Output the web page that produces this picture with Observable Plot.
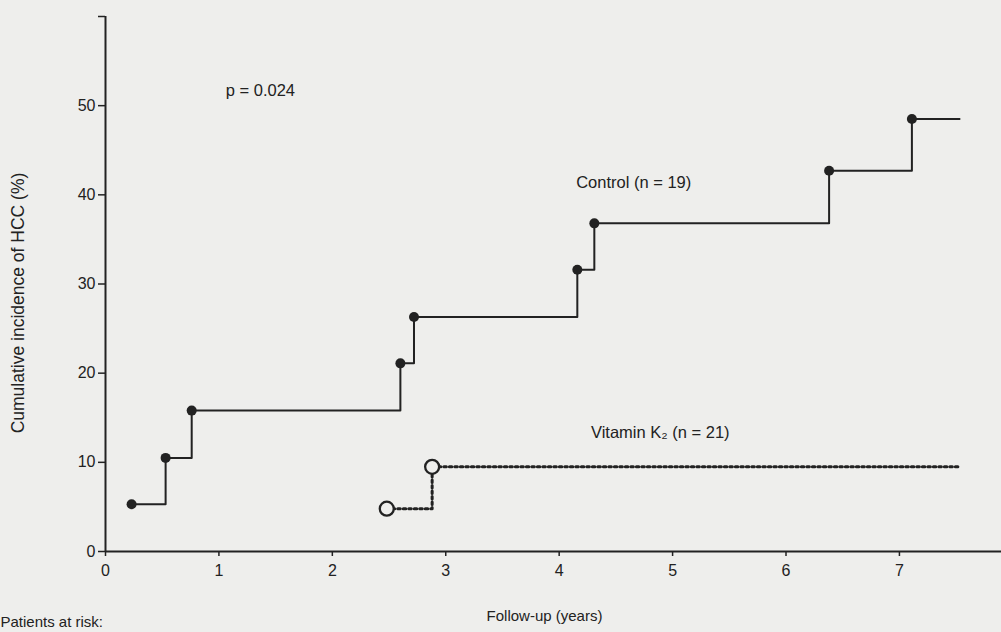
<!DOCTYPE html>
<html><head><meta charset="utf-8">
<script src="https://cdn.jsdelivr.net/npm/d3@7"></script>
<script src="https://cdn.jsdelivr.net/npm/@observablehq/plot@0.6"></script>
<style>
html,body{margin:0;padding:0;background:#eeeeec;}
#chart{width:1001px;height:632px;overflow:hidden;}
</style></head><body><div id="chart"></div>
<script>
// Control group (filled dots): event times (years) and cumulative incidence (%)
const controlYears = [0.23, 0.53, 0.76, 2.60, 2.72, 4.16, 4.31, 6.38, 7.11];
const controlPct   = [5.3, 10.5, 15.8, 21.1, 26.3, 31.6, 36.8, 42.7, 48.5];
// Vitamin K2 group (open circles)
const vitaminYears = [2.48, 2.88];
const vitaminPct   = [4.8, 9.5];
// end of follow-up for both curves
const followUpEnd = 7.53;
const xTicks = [0, 1, 2, 3, 4, 5, 6, 7];
const yTicks = [0, 10, 20, 30, 40, 50, 60];
const yTickLabels = ["0", "10", "20", "30", "40", "50", ""];
const labels = [
  {x: 1.06, y: 51.7, text: "p = 0.024"},
  {x: 4.15, y: 41.4, text: "Control (n = 19)"},
  {x: 4.28, y: 13.3, text: "Vitamin K\u2082 (n = 21)"}
];

const ink = "#222222";
const controlEvents = controlYears.map((t, i) => ({t, p: controlPct[i]}));
const controlLine = [...controlEvents, {t: followUpEnd, p: controlPct[controlPct.length - 1]}];
const vitaminEvents = vitaminYears.map((t, i) => ({t, p: vitaminPct[i]}));
const vitaminLine = [...vitaminEvents, {t: followUpEnd, p: vitaminPct[vitaminPct.length - 1]}];

const chart = Plot.plot({
  width: 1001, height: 632,
  marginLeft: 105, marginRight: 0, marginTop: 16, marginBottom: 81,
  x: {domain: [0, 7.9]},
  y: {domain: [0, 60]},
  style: {background: "transparent", fontFamily: "'Liberation Sans', Arial, sans-serif", fontSize: "16px", color: ink},
  marks: [
    Plot.axisX({ticks: xTicks, tickSize: 5, tickPadding: 8, label: null, stroke: ink, strokeWidth: 1.5, fontSize: 16, fill: ink}),
    Plot.axisY({ticks: yTicks, tickFormat: d => yTickLabels[yTicks.indexOf(d)], tickSize: 7, tickPadding: 3, label: null, stroke: ink, strokeWidth: 1.5, fontSize: 16, fill: ink}),
    Plot.ruleY([0], {stroke: ink, strokeWidth: 2}),
    Plot.ruleX([0], {stroke: ink, strokeWidth: 2}),
    Plot.line(controlLine, {x: "t", y: "p", curve: "step-after", stroke: ink, strokeWidth: 2}),
    Plot.line(vitaminLine, {x: "t", y: "p", curve: "step-after", stroke: ink, strokeWidth: 3, strokeDasharray: "2.5,3"}),
    Plot.dot(controlEvents, {x: "t", y: "p", r: 5, fill: ink, stroke: "none"}),
    Plot.dot(vitaminEvents, {x: "t", y: "p", r: 7, fill: "#eeeeec", stroke: ink, strokeWidth: 2.3}),
    Plot.text(labels, {x: "x", y: "y", text: "text", textAnchor: "start", fill: ink, fontSize: 16.5}),
    Plot.text(["Cumulative incidence of HCC (%)"], {frameAnchor: "left", dx: -87, dy: 19, rotate: -90, textAnchor: "middle", fill: ink, fontSize: 17.5, letterSpacing: "1.8px"}),
    Plot.text(["Follow-up (years)"], {frameAnchor: "bottom", dx: -9, dy: 69, textAnchor: "middle", fill: ink, fontSize: 15}),
    Plot.text(["Patients at risk:"], {frameAnchor: "bottom-left", dx: -105, dy: 75, textAnchor: "start", fill: ink, fontSize: 15})
  ]
});
document.getElementById("chart").appendChild(chart);
</script></body></html>
